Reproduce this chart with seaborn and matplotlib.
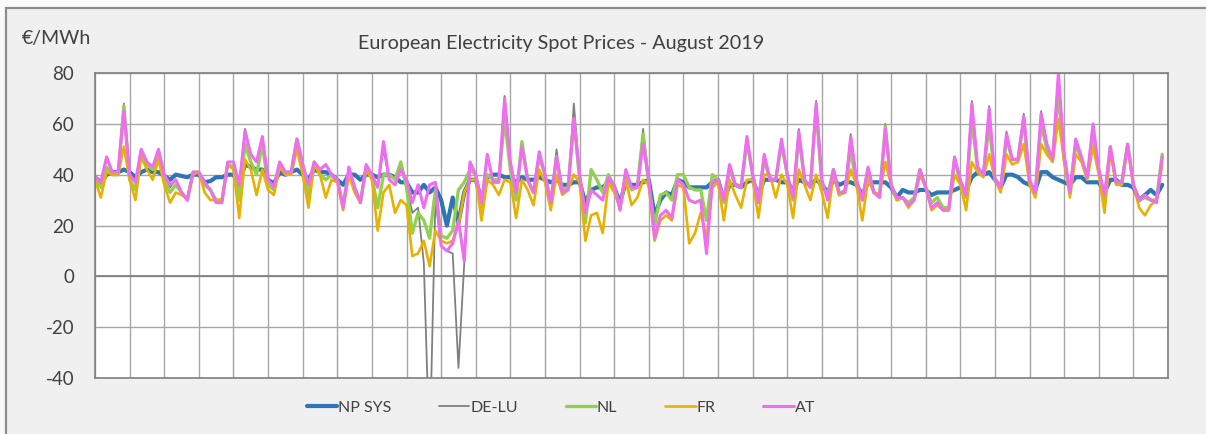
import numpy as np
import pandas as pd
import seaborn as sns
import matplotlib.pyplot as plt
from matplotlib.patches import Rectangle

# Hourly samples every 4 hours (0,4,8,12,16,20) for each day of August 2019
series_names = ["NP SYS", "DE-LU", "NL", "FR", "AT"]

np_sys = [
    [39, 37, 40, 41, 41, 42], [41, 39, 41, 42, 41, 41], [39.5, 38, 40, 39.5, 39, 40],
    [40, 37, 37.5, 39, 39, 40], [40, 36, 44, 43, 42, 42], [38, 36.5, 41, 40, 41, 42],
    [40, 38, 42, 41, 41, 40], [38, 36, 40, 40, 38, 40], [40, 39, 40, 40, 39, 37],
    [37, 33, 33, 36, 33, 35], [30, 20, 31, 21, 33, 38], [38, 30, 39, 40, 40, 39],
    [39, 37, 39, 38, 38, 39], [38, 37, 38, 36, 36, 37], [37, 29, 34, 35, 35, 37],
    [35, 29, 37, 36, 36, 37], [38, 24, 30, 33, 32, 38], [37, 35, 35, 35, 35, 37],
    [38, 30, 36, 36, 35, 37], [38, 32, 38, 38, 38, 37], [37, 34, 38, 37, 36, 38],
    [36, 33, 38, 36, 37, 37], [36, 32, 37, 37, 37, 37], [35, 31, 34, 33, 33, 34],
    [34, 32, 33, 33, 33, 34], [35, 34, 39, 41, 40, 41], [38, 35, 40, 40, 39, 37],
    [36, 34, 41, 41, 39, 38], [37, 36, 39, 39, 37, 37], [37, 33, 38, 38, 36, 36],
    [35, 30, 32, 34, 32, 36],
]

de_lu = [
    [39, 36, 46, 41, 41, 68], [40, 37, 50, 45, 43, 50], [40, 35, 38, 33, 30, 41],
    [41, 37, 34, 29, 29, 45], [45, 35, 58, 48, 45, 55], [38, 35, 45, 41, 41, 54],
    [44, 36, 45, 42, 44, 40], [38, 27, 43, 35, 29, 44], [40, 35, 50, 38, 36, 42],
    [36, 25, 27, 5, -70, 30], [12, 10, 9, -36, 5, 45], [40, 29, 48, 37, 37, 71],
    [45, 33, 52, 38, 33, 49], [40, 29, 50, 33, 34, 68], [40, 25, 34, 32, 30, 39],
    [36, 26, 42, 35, 35, 58], [38, 15, 24, 26, 23, 38], [36, 30, 29, 30, 9, 37],
    [38, 30, 44, 36, 35, 55], [40, 29, 48, 38, 38, 54], [40, 31, 58, 38, 35, 69],
    [38, 30, 42, 33, 33, 56], [38, 30, 43, 33, 31, 60], [36, 31, 31, 28, 30, 42],
    [35, 27, 29, 26, 26, 47], [38, 32, 69, 43, 40, 67], [38, 35, 57, 46, 46, 64],
    [38, 33, 65, 52, 46, 79], [48, 33, 54, 47, 39, 60], [42, 32, 51, 37, 37, 52],
    [36, 30, 32, 30, 29, 47],
]

nl = [
    [39, 35, 43, 40, 40, 67], [38, 34, 49, 44, 42, 48], [38, 33, 36, 33, 30, 41],
    [41, 36, 34, 30, 30, 44], [43, 30, 52, 45, 40, 52], [36, 34, 44, 41, 41, 54],
    [44, 31, 45, 40, 38, 40], [38, 28, 41, 35, 29, 43], [39, 27, 40, 40, 38, 45],
    [35, 17, 25, 22, 15, 34], [16, 15, 18, 34, 37, 42], [40, 27, 40, 38, 38, 62],
    [42, 30, 53, 38, 33, 47], [40, 29, 47, 34, 35, 62], [38, 21, 42, 38, 33, 40],
    [35, 27, 40, 34, 35, 56], [36, 20, 32, 33, 30, 40], [40, 35, 34, 34, 22, 40],
    [38, 29, 42, 36, 35, 53], [40, 30, 46, 38, 38, 52], [40, 30, 55, 38, 35, 66],
    [36, 32, 42, 32, 34, 50], [36, 30, 42, 33, 32, 59], [36, 30, 31, 29, 31, 42],
    [35, 29, 31, 27, 27, 46], [37, 31, 62, 42, 40, 60], [38, 35, 54, 46, 46, 62],
    [37, 33, 60, 50, 46, 72], [46, 33, 52, 46, 39, 56], [42, 30, 51, 37, 37, 52],
    [36, 30, 31, 30, 30, 48],
]

fr = [
    [38, 31, 41, 40, 40, 51], [38, 30, 47, 42, 38, 46], [36, 29, 33, 32, 31, 40],
    [41, 33, 30, 30, 30, 44], [42, 23, 46, 42, 32, 42], [34, 32, 43, 40, 40, 50],
    [40, 27, 44, 40, 31, 38], [37, 26, 40, 33, 29, 42], [38, 18, 33, 36, 25, 30],
    [28, 8, 9, 14, 4, 18], [14, 13, 14, 20, 33, 38], [38, 22, 38, 36, 32, 38],
    [37, 23, 38, 34, 28, 42], [37, 26, 40, 32, 34, 40], [37, 14, 24, 25, 17, 37],
    [33, 27, 38, 28, 31, 38], [36, 14, 22, 24, 22, 36], [35, 13, 17, 25, 15, 35],
    [37, 22, 38, 32, 27, 38], [38, 23, 40, 40, 31, 40], [36, 23, 42, 36, 30, 40],
    [33, 23, 40, 32, 33, 42], [36, 22, 38, 33, 32, 45], [36, 30, 31, 27, 30, 40],
    [35, 26, 28, 26, 27, 40], [36, 26, 45, 41, 39, 48], [38, 33, 48, 44, 45, 52],
    [36, 31, 52, 48, 45, 62], [45, 31, 48, 45, 38, 51], [40, 25, 49, 36, 36, 51],
    [36, 27, 24, 28, 30, 44],
]

at = [
    [39, 37, 47, 41, 41, 65], [40, 37, 50, 45, 43, 50], [40, 36, 38, 33, 30, 41],
    [41, 37, 34, 29, 29, 45], [45, 36, 57, 48, 45, 55], [38, 35, 45, 41, 41, 54],
    [44, 36, 45, 42, 44, 40], [38, 27, 43, 35, 29, 44], [40, 35, 53, 38, 36, 42],
    [38, 29, 36, 27, 36, 37], [12, 10, 13, 22, 6, 45], [40, 29, 48, 37, 37, 70],
    [45, 33, 51, 38, 33, 49], [40, 29, 47, 33, 34, 62], [40, 25, 34, 32, 30, 39],
    [36, 26, 42, 35, 35, 52], [38, 15, 24, 26, 23, 38], [36, 30, 29, 30, 9, 37],
    [38, 30, 44, 36, 35, 55], [40, 29, 48, 38, 38, 54], [40, 31, 57, 38, 35, 68],
    [38, 30, 42, 33, 33, 55], [38, 30, 43, 33, 31, 58], [36, 31, 31, 28, 30, 42],
    [35, 27, 29, 26, 26, 47], [38, 32, 68, 43, 40, 66], [38, 35, 56, 46, 46, 63],
    [38, 33, 64, 52, 46, 80], [48, 33, 54, 47, 39, 60], [42, 32, 51, 37, 37, 52],
    [36, 30, 32, 30, 29, 47],
]

y_ticks = [-40, -20, 0, 20, 40, 60, 80]
title = "European Electricity Spot Prices - August 2019"
unit_label = "€/MWh"

colors = {"NP SYS": "#2e75b6", "DE-LU": "#808080", "NL": "#92d050",
          "FR": "#e8b100", "AT": "#f06cf0"}
widths = {"NP SYS": 3.0, "DE-LU": 1.3, "NL": 2.4, "FR": 1.9, "AT": 2.2}

all_vals = [np_sys, de_lu, nl, fr, at]
hours = np.arange(0, 31 * 24, 4)
frames = []
for name, vals in zip(series_names, all_vals):
    frames.append(pd.DataFrame({"hour": hours,
                                "price": np.ravel(np.array(vals, dtype=float)),
                                "series": name}))
df = pd.concat(frames, ignore_index=True)

sns.set_style("white")
plt.rcParams["font.family"] = ["Lato", "DejaVu Sans"]

fig = plt.figure(figsize=(12.06, 4.34), dpi=100)
fig.patch.set_facecolor("#fafafa")
fig.patches.append(Rectangle((6 / 1206, -0.2), 1.2, 0.2 + 1 - 8 / 434,
                             transform=fig.transFigure, facecolor="#f0f0f0",
                             edgecolor="#8c8c8c", lw=1.6, zorder=-5))
ax = fig.add_axes([0.0788, 0.129, 0.8897, 0.7028])
ax.set_facecolor("white")

for name in series_names:
    sub = df[df["series"] == name]
    sns.lineplot(data=sub, x="hour", y="price", ax=ax, color=colors[name],
                 linewidth=widths[name], label=name, solid_joinstyle="round")

ax.set_xlim(0, 744)
ax.set_ylim(-40, 80)
ax.set_yticks(y_ticks)
ax.set_yticklabels([str(v) for v in y_ticks])
ax.set_xticks(np.arange(0, 745, 24))
ax.set_xticklabels([])
ax.grid(True, color="#a6a6a6", linewidth=1.0)
ax.axhline(0, color="#808080", linewidth=1.3, zorder=1.5)
ax.set_axisbelow(True)
ax.tick_params(axis="both", length=0)
ax.tick_params(axis="y", pad=15, labelsize=13.5, labelcolor="#404040")
ax.set_xlabel("")
ax.set_ylabel("")
for s in ax.spines.values():
    s.set_color("#808080")
    s.set_linewidth(1.2)

fig.text(0.018, 0.912, unit_label, fontsize=14, color="#404040", va="center", ha="left")
fig.text(0.465, 0.90, title, fontsize=14.2, color="#404040", va="center", ha="center")

if ax.legend_:
    ax.legend_.remove()
handles, labels = ax.get_legend_handles_labels()
leg = fig.legend(handles, labels, loc="center", bbox_to_anchor=(0.465, 0.06), ncol=5,
                 frameon=False, fontsize=11.5, handlelength=1.9, handletextpad=0.05,
                 columnspacing=3.0, labelcolor="#404040")

fig.savefig("out.png", dpi=100, facecolor=fig.get_facecolor())
